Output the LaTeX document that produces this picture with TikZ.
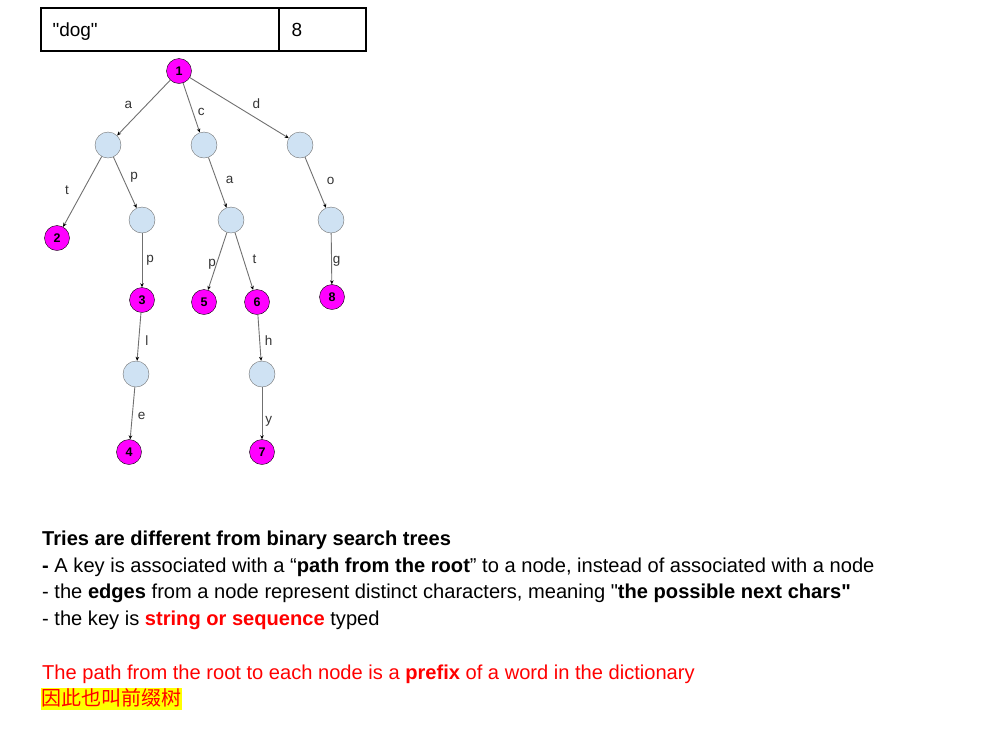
\documentclass[tikz,border=0pt]{standalone}
\usepackage{fontspec}
\setmainfont{Liberation Sans}
\newfontfamily\cjk{Noto Sans CJK SC}
\usetikzlibrary{arrows.meta}
\definecolor{keypink}{HTML}{FF00FF}
\definecolor{emptyblue}{HTML}{CFE2F3}
\definecolor{edgegray}{HTML}{707070}
\definecolor{textred}{HTML}{FF0000}
\definecolor{markyellow}{HTML}{FFFF00}
\begin{document}
\begin{tikzpicture}[x=1pt, y=-1pt,
   keynode/.style={circle, draw=black, fill=keypink, minimum size=25pt, inner sep=0pt,
     font=\fontsize{12.5}{12.5}\selectfont\bfseries},
   emptynode/.style={circle, draw=edgegray, fill=emptyblue, minimum size=26pt, inner sep=0pt},
   edge/.style={draw=edgegray, line width=0.9pt, -{Stealth[length=4pt, width=3.5pt, black]}},
   lbl/.style={font=\fontsize{13.5}{13.5}\selectfont, text=black!80, inner sep=2pt},
   txt/.style={anchor=base west, inner sep=0pt, font=\fontsize{20.1}{20.1}\selectfont}]
   \useasboundingbox (0,0) rectangle (981,740);
   % key / value row
   \draw[line width=1.2pt] (41,8) rectangle (366,51);
   \draw[line width=1.2pt] (279,8) -- (279,51);
   \node[anchor=base west, font=\fontsize{19}{19}\selectfont] (key) at (49,36.5) {\textquotedbl dog\textquotedbl};
   \node[anchor=base west, font=\fontsize{19}{19}\selectfont] (val) at (288,36.5) {8};
   % trie nodes
   \node[keynode] (n1) at (179,71) {1};
   \node[emptynode] (na) at (108,145) {};
   \node[emptynode] (nc) at (204,145) {};
   \node[emptynode] (nd) at (300,145) {};
   \node[keynode] (n2) at (57,238) {2};
   \node[emptynode] (nap) at (142,220) {};
   \node[emptynode] (nca) at (231,220) {};
   \node[emptynode] (ndo) at (331,220) {};
   \node[keynode] (n3) at (142,300) {3};
   \node[keynode] (n5) at (204,302) {5};
   \node[keynode] (n6) at (257,302) {6};
   \node[keynode] (n8) at (332,297) {8};
   \node[emptynode] (nl) at (136,374) {};
   \node[emptynode] (nh) at (262,374) {};
   \node[keynode] (n4) at (129,452) {4};
   \node[keynode] (n7) at (262,452) {7};
   % edges
   \draw[edge] (n1) -- node[lbl, above left, xshift=-9pt, yshift=-3pt] {a} (na);
   \draw[edge] (n1) -- node[lbl, right, xshift=4pt, yshift=-4pt] {c} (nc);
   \draw[edge] (n1) -- node[lbl, above right, xshift=11pt, yshift=-3pt] {d} (nd);
   \draw[edge] (na) -- node[lbl, left, xshift=-11pt, yshift=2pt] {t} (n2);
   \draw[edge] (na) -- node[lbl, above right, xshift=3pt, yshift=-2pt] {p} (nap);
   \draw[edge] (nc) -- node[lbl, right, xshift=6pt, yshift=3pt] {a} (nca);
   \draw[edge] (nd) -- node[lbl, right, xshift=9pt, yshift=2pt] {o} (ndo);
   \draw[edge] (nap) -- node[lbl, right, xshift=2pt] {p} (n3);
   \draw[edge] (nca) -- node[lbl, left, xshift=1pt, yshift=-3pt] {p} (n5);
   \draw[edge] (nca) -- node[lbl, right, xshift=6pt, yshift=2pt] {t} (n6);
   \draw[edge] (ndo) -- node[lbl, right, xshift=-1pt, yshift=-3pt] {g} (n8);
   \draw[edge] (n3) -- node[lbl, right, xshift=4pt, yshift=-4pt] {l} (nl);
   \draw[edge] (n6) -- node[lbl, right, xshift=3pt, yshift=-3pt] {h} (nh);
   \draw[edge] (nl) -- node[lbl, right, xshift=3pt, yshift=-3pt] {e} (n4);
   \draw[edge] (nh) -- node[lbl, right, xshift=1pt, yshift=-8pt] {y} (n7);
   % notes
   \node[txt] (line1) at (42,545.7) {\bfseries Tries are different from binary search trees};
   \node[txt] (line2) at (42,572.2) {\textbf{-} A key is associated with a “\textbf{path from the root}” to a node, instead of associated with a node};
   \node[txt] (line3) at (42,598.7) {- the \textbf{edges} from a node represent distinct characters, meaning \textquotedbl\textbf{the possible next chars\textquotedbl}};
   \node[txt] (line4) at (42,625.2) {- the key is \textcolor{textred}{\bfseries string or sequence} typed};
   \node[txt, text=textred] (line5) at (42,679.3) {The path from the root to each node is a \textbf{prefix} of a word in the dictionary};
   \fill[markyellow] (41,688.3) rectangle (182,710);
   \node[txt, text=textred, font=\fontsize{20}{20}\cjk] (line6) at (41.5,705.5) {因此也叫前缀树};
\end{tikzpicture}
\end{document}
